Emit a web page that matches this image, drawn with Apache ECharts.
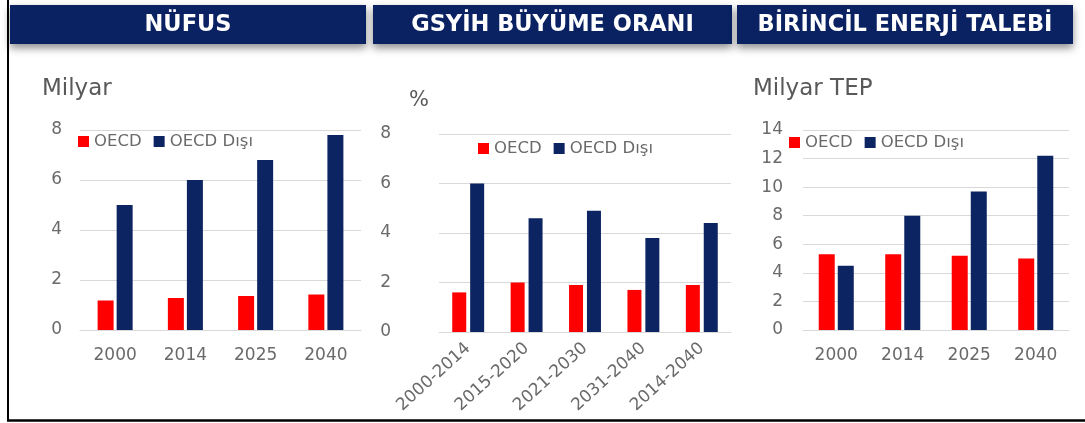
<!DOCTYPE html>
<html>
<head>
<meta charset="utf-8">
<script src="https://cdn.jsdelivr.net/npm/echarts@6/dist/echarts.min.js"></script>
<style>
html,body{margin:0;padding:0;background:#fff;}
#c{width:1085px;height:423px;}
</style>
</head>
<body>
<div id="c"></div>
<script>
// ---- data ----
const panelTitles = ['NÜFUS', 'GSYİH BÜYÜME ORANI', 'BİRİNCİL ENERJİ TALEBİ'];
const unitLabels = ['Milyar', '%', 'Milyar TEP'];
const seriesNames = ['OECD', 'OECD Dışı'];

const popYears = ['2000', '2014', '2025', '2040'];
const popOECD = [1.18, 1.28, 1.36, 1.42];
const popNonOECD = [5.0, 6.0, 6.8, 7.8];

const gdpPeriods = ['2000-2014', '2015-2020', '2021-2030', '2031-2040', '2014-2040'];
const gdpOECD = [1.6, 2.0, 1.9, 1.7, 1.9];
const gdpNonOECD = [6.0, 4.6, 4.9, 3.8, 4.4];

const energyYears = ['2000', '2014', '2025', '2040'];
const energyOECD = [5.3, 5.3, 5.2, 5.0];
const energyNonOECD = [4.5, 8.0, 9.7, 12.2];

const yMax = [8, 8, 14];
const yInterval = 2;

// ---- styles ----
const RED = '#ff0000';
const NAVY = '#0c2461';
const NAVY_HEAD = '#0a2162';
const GRAY = '#595959';
const TICK = '#6a6a6a';
const GRID = '#d9d9d9';
const FONT = 'DejaVu Sans';

const chart = echarts.init(document.getElementById('c'), null, {renderer: 'canvas'});

const grids = [
  {left: 80, top: 130, width: 281, height: 200},
  {left: 439, top: 134, width: 292, height: 198},
  {left: 803, top: 130, width: 266, height: 200}
];

const cats = [popYears, gdpPeriods, energyYears];
const dataO = [popOECD, gdpOECD, energyOECD];
const dataN = [popNonOECD, gdpNonOECD, energyNonOECD];
const barW = [16, 14, 16];
const barGaps = ['19%', '28%', '19%'];
const yMargins = [18, 48, 20];

const xAxes = cats.map((c, i) => ({
  type: 'category', gridIndex: i, data: c,
  axisLine: {lineStyle: {color: GRID, width: 1}},
  axisTick: {show: false},
  axisLabel: i === 1
    ? {rotate: 42, color: TICK, fontFamily: FONT, fontSize: 17, margin: 14, interval: 0}
    : {color: TICK, fontFamily: FONT, fontSize: 17, margin: 17, interval: 0}
}));

const yAxes = yMax.map((m, i) => ({
  type: 'value', gridIndex: i, min: 0, max: m, interval: yInterval,
  axisLine: {show: false}, axisTick: {show: false},
  splitLine: {lineStyle: {color: GRID, width: 1}},
  axisLabel: {color: TICK, fontFamily: FONT, fontSize: 17, margin: yMargins[i]}
}));

const series = [];
for (let i = 0; i < 3; i++) {
  series.push({
    type: 'bar', name: seriesNames[0], xAxisIndex: i, yAxisIndex: i,
    data: dataO[i], barWidth: barW[i], barGap: barGaps[i],
    itemStyle: {color: RED}, silent: true
  });
  series.push({
    type: 'bar', name: seriesNames[1], xAxisIndex: i, yAxisIndex: i,
    data: dataN[i], barWidth: barW[i], barGap: barGaps[i],
    itemStyle: {color: NAVY}, silent: true
  });
}

const legendPos = [
  {left: 78, top: 133},
  {left: 478, top: 140},
  {left: 789, top: 134}
];
const legends = legendPos.map((p, i) => ({
  left: p.left, top: p.top, padding: 0, itemGap: 12,
  itemWidth: 11, itemHeight: 11, icon: 'rect',
  selectedMode: false,
  data: [{name: seriesNames[0], itemStyle: {color: RED}}, {name: seriesNames[1], itemStyle: {color: NAVY}}],
  textStyle: {color: TICK, fontFamily: FONT, fontSize: 16.5},
  seriesIndex: [i * 2, i * 2 + 1]
}));

const heads = [
  {x: 10, w: 356},
  {x: 373, w: 359},
  {x: 737, w: 336}
];
const graphic = [];
heads.forEach((h, i) => {
  graphic.push({
    type: 'rect', shape: {x: h.x, y: 5, width: h.w, height: 39},
    style: {fill: NAVY_HEAD, shadowBlur: 8, shadowOffsetY: 4, shadowColor: 'rgba(0,0,0,0.45)'}
  });
  graphic.push({
    type: 'text', x: h.x + h.w / 2, y: 25,
    style: {text: panelTitles[i], fill: '#ffffff', font: 'bold 22.5px "DejaVu Sans"',
            align: 'center', verticalAlign: 'middle'}
  });
});
graphic.push({type: 'text', x: 42, y: 89,
  style: {text: unitLabels[0], fill: GRAY, font: '23px "DejaVu Sans"', verticalAlign: 'middle'}});
graphic.push({type: 'text', x: 409, y: 101,
  style: {text: unitLabels[1], fill: GRAY, font: '21px "DejaVu Sans"', verticalAlign: 'middle'}});
graphic.push({type: 'text', x: 753, y: 89,
  style: {text: unitLabels[2], fill: GRAY, font: '23px "DejaVu Sans"', verticalAlign: 'middle'}});
// frame lines
graphic.push({type: 'line', shape: {x1: 8, y1: 0, x2: 8, y2: 421}, style: {stroke: '#000', lineWidth: 2}});
graphic.push({type: 'line', shape: {x1: 7, y1: 420.5, x2: 1085, y2: 420.5}, style: {stroke: '#000', lineWidth: 2.5}});

chart.setOption({
  backgroundColor: '#ffffff',
  animation: false,
  grid: grids,
  xAxis: xAxes,
  yAxis: yAxes,
  legend: legends,
  series: series,
  graphic: graphic
});
</script>
</body>
</html>
